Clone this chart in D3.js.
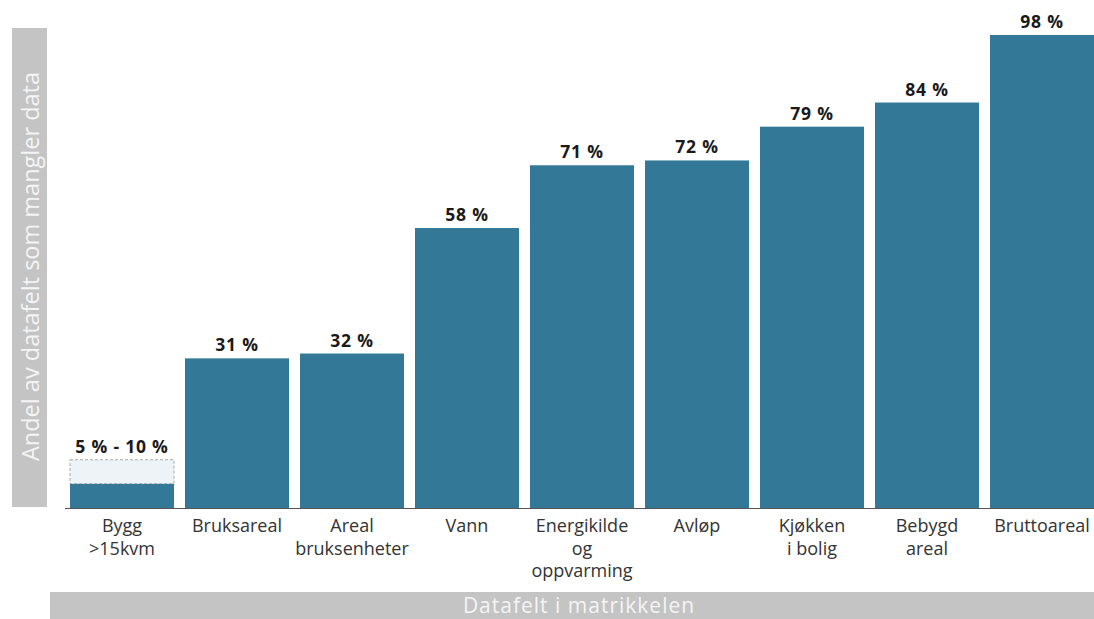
<!DOCTYPE html>
<html>
<head>
<meta charset="utf-8">
<script src="https://cdn.jsdelivr.net/npm/d3@7"></script>
<style>
  html, body { margin: 0; padding: 0; background: #fff; }
  svg { display: block; font-family: "Open Sans", "Noto Sans", sans-serif; }
</style>
</head>
<body>
<svg id="chart" width="1094" height="619"></svg>
<script>
// Share of records missing each data field in the cadastre
const categories = [
  ["Bygg", ">15kvm"],
  ["Bruksareal"],
  ["Areal", "bruksenheter"],
  ["Vann"],
  ["Energikilde", "og", "oppvarming"],
  ["Avløp"],
  ["Kjøkken", "i bolig"],
  ["Bebygd", "areal"],
  ["Bruttoareal"]
];
const values = [5, 31, 32, 58, 71, 72, 79, 84, 98];
const valueLabels = ["5 % - 10 %", "31 %", "32 %", "58 %", "71 %", "72 %", "79 %", "84 %", "98 %"];
// Upper bound of the range shown for the first field
const rangeUpper = [10, null, null, null, null, null, null, null, null];

const yTitle = "Andel av datafelt som mangler data";
const xTitle = "Datafelt i matrikkelen";

const svg = d3.select("#chart");
const baseY = 508;

const x = d3.scaleBand()
  .domain(d3.range(categories.length))
  .range([64.5, 1099.5])
  .paddingInner(11 / 115)
  .paddingOuter(5.5 / 115);

const y = d3.scaleLinear().domain([0, 100]).range([baseY, 25.3]);

const barColor = "#337896";

// Y title band
svg.append("rect")
  .attr("x", 12).attr("y", 28).attr("width", 35).attr("height", 479)
  .attr("fill", "#c4c4c4");
svg.append("text")
  .attr("transform", `translate(38.5,${28 + 479 / 2 - 1}) rotate(-90)`)
  .attr("text-anchor", "middle")
  .attr("fill", "#f4f4f4")
  .style("font-size", "23.5px")
  .text(yTitle);

// X title band
svg.append("rect")
  .attr("x", 50).attr("y", 592).attr("width", 1044).attr("height", 27)
  .attr("fill", "#c4c4c4");
svg.append("text")
  .attr("x", 579).attr("y", 612.5)
  .attr("text-anchor", "middle")
  .attr("fill", "#f4f4f4")
  .style("font-size", "21px")
  .style("letter-spacing", "1px")
  .text(xTitle);

// Dashed range box
const idx = d3.range(categories.length);
svg.append("g").selectAll("rect")
  .data(idx.filter(i => rangeUpper[i] != null))
  .join("rect")
  .attr("x", i => x(i))
  .attr("y", i => y(rangeUpper[i]))
  .attr("width", x.bandwidth())
  .attr("height", i => y(values[i]) - y(rangeUpper[i]))
  .attr("fill", "#edf3f7")
  .attr("stroke", "#a8a8a8")
  .attr("stroke-width", 1)
  .attr("stroke-dasharray", "3,2");

// Bars
svg.append("g").selectAll("rect")
  .data(idx)
  .join("rect")
  .attr("x", i => x(i))
  .attr("y", i => y(values[i]))
  .attr("width", x.bandwidth())
  .attr("height", i => baseY - y(values[i]))
  .attr("fill", barColor);

// Value labels
svg.append("g").selectAll("text")
  .data(idx)
  .join("text")
  .attr("x", i => x(i) + x.bandwidth() / 2)
  .attr("y", i => y(rangeUpper[i] != null ? rangeUpper[i] : values[i]) - 7)
  .attr("text-anchor", "middle")
  .attr("fill", "#1a1a1a")
  .style("font-size", "17.5px")
  .style("letter-spacing", "0.8px")
  .style("font-weight", "bold")
  .text(i => valueLabels[i]);

// Baseline
svg.append("line")
  .attr("x1", 65).attr("x2", 1094)
  .attr("y1", baseY + 0.5).attr("y2", baseY + 0.5)
  .attr("stroke", "#555").attr("stroke-width", 1.2);

// Category labels
const catG = svg.append("g").selectAll("text")
  .data(idx)
  .join("text")
  .attr("text-anchor", "middle")
  .attr("fill", "#333")
  .style("font-size", "18px");
catG.each(function(i) {
  const t = d3.select(this);
  categories[i].forEach((line, k) => {
    t.append("tspan")
      .attr("x", x(i) + x.bandwidth() / 2)
      .attr("y", 532 + k * 22.5)
      .text(line);
  });
});
</script>
</body>
</html>
